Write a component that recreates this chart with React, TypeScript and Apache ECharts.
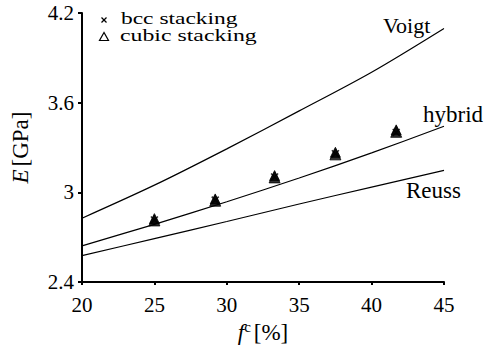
import React, { useEffect, useRef } from "react";
import * as echarts from "echarts";

const fractions = [20, 25, 30, 35, 40, 45];
const voigt = [2.827, 3.048, 3.291, 3.545, 3.804, 4.097];
const hybrid = [2.642, 2.786, 2.937, 3.096, 3.264, 3.442];
const reuss = [2.577, 2.69, 2.805, 2.922, 3.035, 3.147];

const sampleFractions = [25, 29.2, 33.3, 37.5, 41.7];
const bcc = [2.815, 2.948, 3.102, 3.258, 3.4];
const cubicA = [2.812, 2.944, 3.1, 3.254, 3.405];
const cubicB = [2.824, 2.956, 3.112, 3.268, 3.418];

const xTicks = { min: 20, max: 45, interval: 5 };
const yTicks = { min: 2.4, max: 4.2, interval: 0.6 };

const FONT = "'Liberation Serif', 'Times New Roman', serif";

export default function App() {
  const ref = useRef<HTMLDivElement>(null);
  useEffect(() => {
    document.body.style.margin = "0";
    const chart = echarts.init(ref.current!, null, { renderer: "svg" });
    const pair = (xs: number[], ys: number[]) => xs.map((x, i) => [x, ys[i]]);
    const lineSeries = (name: string, ys: number[]) => ({
      name,
      type: "line",
      data: pair(fractions, ys),
      smooth: 0.3,
      symbol: "none",
      lineStyle: { color: "#000", width: 1.2 },
      z: 2,
    });
    const label = (text: string, x: number, y: number, size: number, sx = 1) => ({
      type: "text",
      x,
      y,
      scaleX: sx,
      style: { text, fontFamily: FONT, fontSize: size, fill: "#000", verticalAlign: "middle", align: "left" },
    });
    chart.setOption({
      animation: false,
      backgroundColor: "#fff",
      textStyle: { fontFamily: FONT },
      grid: { left: 82, right: 42, top: 13, bottom: 69 },
      xAxis: {
        type: "value",
        ...xTicks,
        name: "{i|f}{s|c} {n|[%]}",
        nameLocation: "middle",
        nameGap: 36,
        nameTextStyle: {
          fontFamily: FONT,
          rich: {
            i: { fontFamily: FONT, fontStyle: "italic", fontSize: 23, color: "#000", lineHeight: 24, verticalAlign: "bottom" },
            s: { fontFamily: FONT, fontSize: 15, color: "#000", lineHeight: 24, verticalAlign: "top" },
            n: { fontFamily: FONT, fontSize: 23, color: "#000", lineHeight: 24, verticalAlign: "bottom" },
          },
        },
        axisLine: { show: true, lineStyle: { color: "#000", width: 2 } },
        axisTick: { show: true, inside: false, length: 3, lineStyle: { color: "#000", width: 2 } },
        axisLabel: { fontFamily: FONT, fontSize: 21, color: "#000", margin: 12 },
        splitLine: { show: false },
      },
      yAxis: {
        type: "value",
        ...yTicks,
        name: "{i|E} {n|[GPa]}",
        nameLocation: "middle",
        nameGap: 50,
        nameRotate: 90,
        nameTextStyle: {
          fontFamily: FONT,
          rich: {
            i: { fontFamily: FONT, fontStyle: "italic", fontSize: 23, color: "#000" },
            n: { fontFamily: FONT, fontSize: 23, color: "#000" },
          },
        },
        axisLine: { show: true, lineStyle: { color: "#000", width: 2 } },
        axisTick: { show: true, inside: false, length: 4, lineStyle: { color: "#000", width: 2 } },
        axisLabel: {
          fontFamily: FONT,
          fontSize: 21,
          color: "#000",
          margin: 8,
          formatter: (v: number) => String(+v.toFixed(1)),
        },
        splitLine: { show: false },
      },
      series: [
        lineSeries("Voigt", voigt),
        lineSeries("hybrid", hybrid),
        lineSeries("Reuss", reuss),
        {
          name: "bcc stacking",
          type: "scatter",
          data: pair(sampleFractions, bcc),
          symbol: "path://M0,0L10,10M10,0L0,10",
          symbolSize: 7,
          itemStyle: { color: "transparent", borderColor: "#000", borderWidth: 1.5 },
          z: 3,
        },
        {
          name: "cubic stacking",
          type: "scatter",
          data: pair(sampleFractions, cubicA),
          symbol: "triangle",
          symbolSize: [11, 11],
          itemStyle: { color: "#000", borderColor: "#000", borderWidth: 1 },
          z: 4,
        },
        {
          name: "cubic stacking b",
          type: "scatter",
          data: pair(sampleFractions, cubicB),
          symbol: "triangle",
          symbolSize: [10, 10],
          itemStyle: { color: "#000", borderColor: "#000", borderWidth: 1 },
          z: 4,
        },
      ],
      graphic: [
        { type: "line", shape: { x1: 101.5, y1: 17.5, x2: 106.5, y2: 22.5 }, style: { stroke: "#000", lineWidth: 1.2 } },
        { type: "line", shape: { x1: 106.5, y1: 17.5, x2: 101.5, y2: 22.5 }, style: { stroke: "#000", lineWidth: 1.2 } },
        { type: "polygon", shape: { points: [[104, 32.5], [99.5, 40.5], [108.5, 40.5]] }, style: { fill: "none", stroke: "#000", lineWidth: 1.2 } },
        label("bcc stacking", 121, 18.5, 17, 1.38),
        label("cubic stacking", 120, 35.5, 17, 1.4),
        label("Voigt", 383, 25, 22),
        label("hybrid", 423, 114, 23),
        label("Reuss", 406, 190, 23),
      ],
    });
    return () => chart.dispose();
  }, []);
  return <div ref={ref} style={{ width: 486, height: 351, position: "absolute", left: 0, top: 0 }} />;
}
